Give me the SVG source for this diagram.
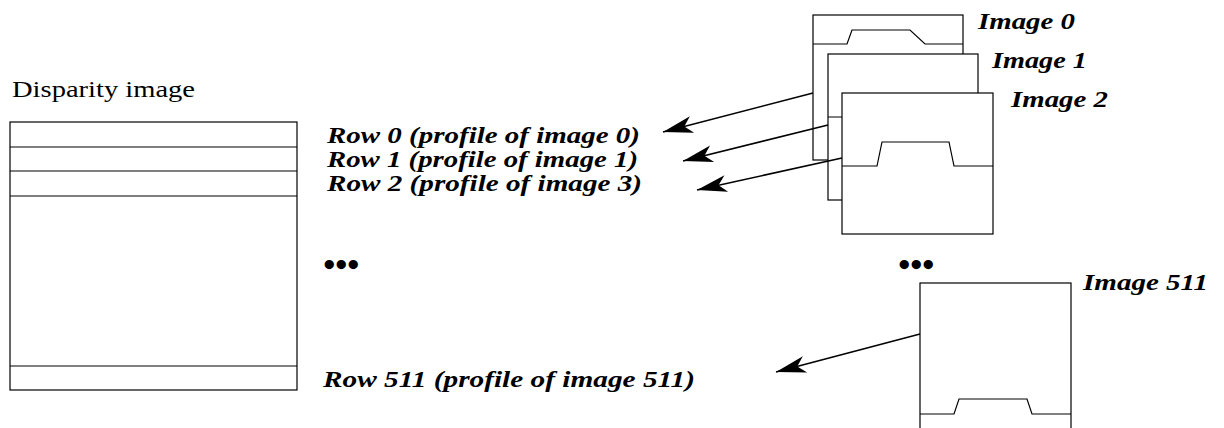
<svg xmlns="http://www.w3.org/2000/svg" width="1224" height="428" viewBox="0 0 1224 428">
<style>
.frame{fill:#fff;stroke:#000;stroke-width:1.2}
.ln{fill:none;stroke:#000;stroke-width:1.2}
text{font-family:'Liberation Serif',Tinos,'Times New Roman',Times,'Nimbus Roman',serif;fill:#000}
.lbl{font-weight:bold;font-style:italic}
.arrow{fill:none;stroke:#000;stroke-width:1.6}
</style>
<defs>
<marker id="ah" markerUnits="userSpaceOnUse" orient="auto" refX="0" refY="0" markerWidth="40" markerHeight="40" overflow="visible">
<path d="M0,0 L-30,-8.5 L-22,0 L-30,8.5 Z" fill="#000"/>
</marker>
</defs>
<rect width="1224" height="428" fill="#fff"/>

<g id="disparity">
<text x="12" y="97" font-size="24" textLength="183" lengthAdjust="spacingAndGlyphs">Disparity image</text>
<rect class="frame" x="10" y="122" width="287" height="268"/>
<path class="ln" d="M10,147 H297 M10,171 H297 M10,196 H297 M10,366 H297"/>
</g>

<g id="row-labels">
<text class="lbl" x="327" y="143" font-size="23" textLength="313" lengthAdjust="spacingAndGlyphs">Row 0 (profile of image 0)</text>
<text class="lbl" x="327" y="167" font-size="23" textLength="311" lengthAdjust="spacingAndGlyphs">Row 1 (profile of image 1)</text>
<text class="lbl" x="327" y="191" font-size="23" textLength="315" lengthAdjust="spacingAndGlyphs">Row 2 (profile of image 3)</text>
<text class="lbl" x="323" y="387" font-size="23" textLength="372" lengthAdjust="spacingAndGlyphs">Row 511 (profile of image 511)</text>
<text class="lbl" x="323" y="276" font-size="34" textLength="36" lengthAdjust="spacingAndGlyphs">•••</text>
</g>

<g id="image0">
<rect class="frame" x="813" y="15" width="150" height="145"/>
<path class="ln" d="M813,44 H847 L852,30 H910 L925,44 H963"/>
<text class="lbl" x="978" y="29" font-size="24" textLength="97" lengthAdjust="spacingAndGlyphs">Image 0</text>
</g>

<g id="image1">
<rect class="frame" x="828" y="54" width="150" height="146"/>
<path class="ln" d="M828,117 H978"/>
<text class="lbl" x="992" y="68" font-size="24" textLength="95" lengthAdjust="spacingAndGlyphs">Image 1</text>
</g>

<g id="image2">
<rect class="frame" x="842" y="93" width="151" height="141"/>
<path class="ln" d="M842,166 H877 L882,142 H949 L954,166 H993"/>
<text class="lbl" x="1011" y="107" font-size="24" textLength="97" lengthAdjust="spacingAndGlyphs">Image 2</text>
</g>

<g id="image511">
<text class="lbl" x="898" y="276" font-size="34" textLength="36" lengthAdjust="spacingAndGlyphs">•••</text>
<rect class="frame" x="920" y="283" width="151" height="160"/>
<path class="ln" d="M920,414 H954 L959,399 H1027 L1032,414 H1071"/>
<text class="lbl" x="1083" y="290" font-size="24" textLength="125" lengthAdjust="spacingAndGlyphs">Image 511</text>
</g>

<g id="connectors">
<line class="arrow" x1="813" y1="93" x2="663" y2="132" marker-end="url(#ah)"/>
<line class="arrow" x1="828" y1="125" x2="683" y2="161" marker-end="url(#ah)"/>
<line class="arrow" x1="842" y1="158" x2="697" y2="190" marker-end="url(#ah)"/>
<line class="arrow" x1="920" y1="334" x2="776" y2="372" marker-end="url(#ah)"/>
</g>
</svg>
